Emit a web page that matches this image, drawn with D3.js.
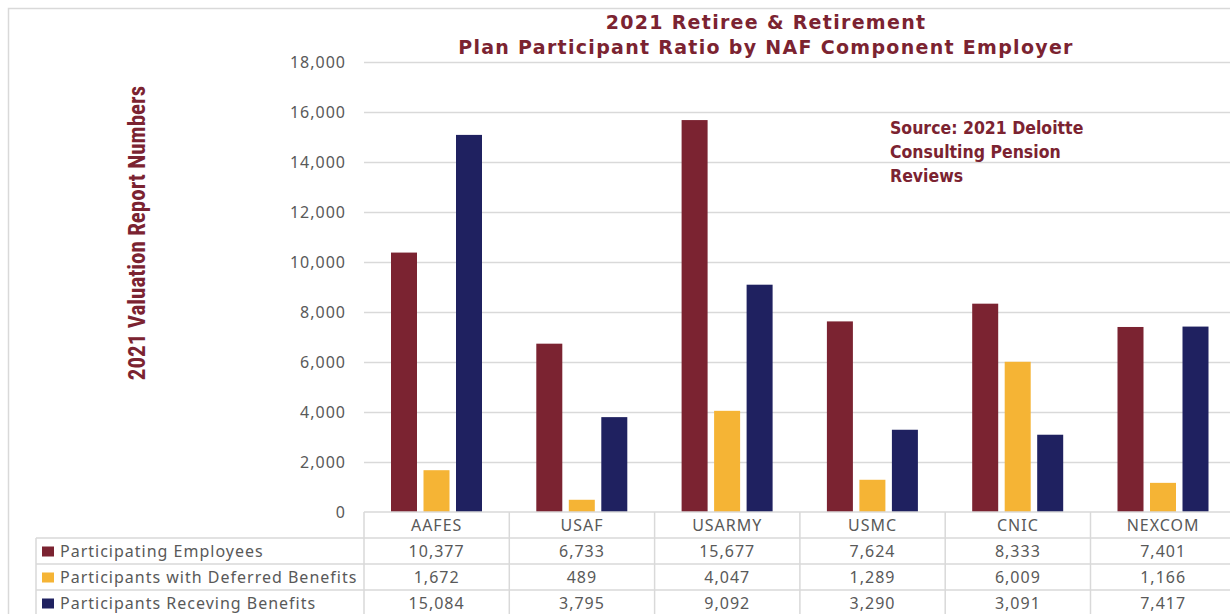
<!DOCTYPE html>
<html><head><meta charset="utf-8">
<script src="https://cdn.jsdelivr.net/npm/d3@7/dist/d3.min.js"></script>
<style>
html,body{margin:0;padding:0;background:#fff;}
svg{display:block;}
</style></head>
<body>
<svg id="chart" width="1230" height="614"></svg>
<script>
const categories = ["AAFES","USAF","USARMY","USMC","CNIC","NEXCOM"];
const seriesNames = ["Participating Employees","Participants with Deferred Benefits","Participants Receving Benefits"];
const participatingEmployees = [10377,6733,15677,7624,8333,7401];
const deferredBenefits = [1672,489,4047,1289,6009,1166];
const receivingBenefits = [15084,3795,9092,3290,3091,7417];
const yTicks = [0,2000,4000,6000,8000,10000,12000,14000,16000,18000];
const seriesColors = ["#7B2331","#F5B435","#1F2160"];
const titleLines = ["2021 Retiree & Retirement","Plan Participant Ratio by NAF Component Employer"];
const sourceLines = ["Source: 2021 Deloitte","Consulting Pension","Reviews"];
const yAxisTitle = "2021 Valuation Report Numbers";

const series = [participatingEmployees, deferredBenefits, receivingBenefits];
const maroon = "#7B2331";
const grid = "#d9d9d9";
const textGray = "#595959";
const svg = d3.select("#chart");

// outer border
svg.append("rect").attr("x",8.5).attr("y",8.5).attr("width",1240).attr("height",640)
  .attr("fill","none").attr("stroke",grid).attr("stroke-width",1.5);

const x = d3.scaleBand().domain(categories).range([364, 364 + 6*145.3]).padding(0);
const xs = d3.scaleBand().domain([0,1,2]).range([27, 118]).paddingInner(0.2);
const y = d3.scaleLinear().domain([0,18000]).range([512, 62]);

// gridlines
svg.append("g").selectAll("line").data(yTicks.filter(d=>d>0)).join("line")
  .attr("x1",364).attr("x2",1230).attr("y1",d=>y(d)+0.5).attr("y2",d=>y(d)+0.5)
  .attr("stroke",grid).attr("stroke-width",1.5);

// y tick labels
svg.append("g").selectAll("text").data(yTicks).join("text")
  .attr("x",346).attr("y",d=>y(d)).attr("dy","0.35em").attr("text-anchor","end")
  .attr("font-family","Noto Sans").attr("font-size",16).attr("letter-spacing",1)
  .attr("fill",textGray).text(d=>d3.format(",")(d));

// bars
const groups = svg.append("g").selectAll("g").data(categories).join("g")
  .attr("transform",d=>`translate(${x(d)},0)`);
groups.selectAll("rect").data((c,i)=>series.map((s,k)=>({k, v:s[i]}))).join("rect")
  .attr("x",d=>xs(d.k)).attr("width",xs.bandwidth())
  .attr("y",d=>y(d.v)).attr("height",d=>y(0)-y(d.v))
  .attr("fill",d=>seriesColors[d.k]);

// data table
const rowTop = [512,538,564,590,616];
const tbl = svg.append("g");
tbl.append("line").attr("x1",364).attr("x2",1230).attr("y1",rowTop[0]).attr("y2",rowTop[0])
  .attr("stroke",grid).attr("stroke-width",1.5);
[1,2,3].forEach(r=>{
  tbl.append("line").attr("x1",36).attr("x2",1230).attr("y1",rowTop[r]).attr("y2",rowTop[r])
    .attr("stroke",grid).attr("stroke-width",1.5);
});
tbl.append("line").attr("x1",36).attr("x2",36).attr("y1",rowTop[1]).attr("y2",620)
  .attr("stroke",grid).attr("stroke-width",1.5);
tbl.selectAll(".vl").data(categories).join("line")
  .attr("x1",d=>x(d)).attr("x2",d=>x(d)).attr("y1",rowTop[0]).attr("y2",620)
  .attr("stroke",grid).attr("stroke-width",1.5);

// header labels
tbl.selectAll(".cat").data(categories).join("text")
  .attr("x",d=>x(d)+x.bandwidth()/2).attr("y",(rowTop[0]+rowTop[1])/2).attr("dy","0.35em")
  .attr("text-anchor","middle").attr("font-family","Noto Sans").attr("font-size",16)
  .attr("letter-spacing",1).attr("fill",textGray).text(d=>d);

// rows
seriesNames.forEach((name,k)=>{
  const cy = (rowTop[k+1]+rowTop[k+2])/2;
  tbl.append("rect").attr("x",42).attr("y",cy-4.5).attr("width",12).attr("height",10)
    .attr("fill",seriesColors[k]);
  tbl.append("text").attr("x",60).attr("y",cy).attr("dy","0.35em")
    .attr("font-family","Noto Sans").attr("font-size",16).attr("letter-spacing",1)
    .attr("fill",textGray).text(name);
  tbl.selectAll(".v"+k).data(categories).join("text")
    .attr("x",d=>x(d)+x.bandwidth()/2).attr("y",cy).attr("dy","0.35em")
    .attr("text-anchor","middle").attr("font-family","Noto Sans").attr("font-size",16)
    .attr("letter-spacing",1).attr("fill",textGray)
    .text((d,i)=>d3.format(",")(series[k][i]));
});

// title
svg.append("g").selectAll("text").data(titleLines).join("text")
  .attr("x",766).attr("y",(d,i)=>22+i*25).attr("dy","0.35em").attr("text-anchor","middle")
  .attr("font-family","DejaVu Sans").attr("font-weight","bold").attr("font-size",19)
  .attr("letter-spacing",1.3).attr("fill",maroon).text(d=>d);

// source
svg.append("g").selectAll("text").data(sourceLines).join("text")
  .attr("x",890).attr("y",(d,i)=>128+i*24).attr("dy","0.35em")
  .attr("font-family","DejaVu Sans Condensed, DejaVu Sans").attr("font-weight","bold")
  .attr("font-size",17.5).attr("fill",maroon).text(d=>d);

// y axis title
svg.append("text").attr("transform","translate(137,233) rotate(-90)")
  .attr("text-anchor","middle").attr("dy","0.35em")
  .attr("font-family","Liberation Sans Narrow, Roboto Condensed, Roboto").attr("font-weight","bold")
  .attr("font-size",23).attr("fill",maroon).text(yAxisTitle);
</script>
</body></html>
